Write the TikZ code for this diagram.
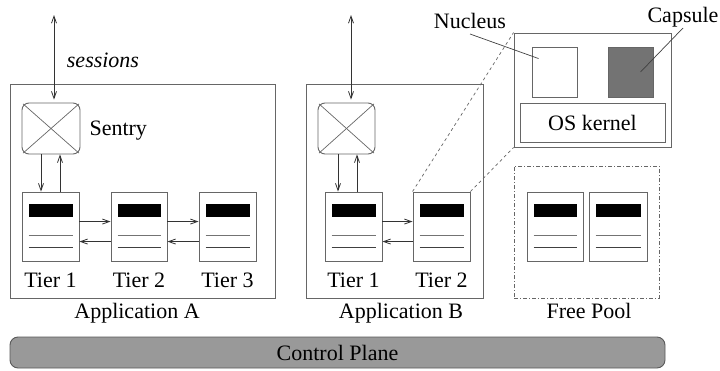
\documentclass[tikz,border=0pt]{standalone}
\usepackage{fontspec}
\setmainfont{Liberation Serif}
\usetikzlibrary{arrows,arrows.meta,calc}
\tikzset{box/.style={draw=black!60, line width=0.9pt, inner sep=0pt},
  tierbox/.style={box, minimum width=57pt, minimum height=69pt},
  sentbox/.style={box, rounded corners=7pt, minimum width=58pt, minimum height=51pt},
  link/.style={draw=black!80, line width=0.8pt, -{Straight Barb[length=7pt,width=5pt]}},
  leader/.style={draw=black!75, line width=0.7pt},
  zoomline/.style={draw=black!60, line width=0.7pt, dash pattern=on 3pt off 3pt}}
\newcommand{\tierlines}[1]{%
  \fill ($(#1.north west)+(7,12)$) rectangle ($(#1.north east)+(-6,25)$);
  \draw[black!55, line width=0.9pt] ($(#1.north west)+(7,44)$) -- ($(#1.north east)+(-6,44)$);
  \draw[black!75, line width=0.9pt] ($(#1.north west)+(7,56)$) -- ($(#1.north east)+(-6,56)$);}
\newcommand{\sentcross}[1]{%
  \draw[black!60, line width=0.7pt, shorten >=2pt, shorten <=2pt] (#1.north west) -- (#1.south east);
  \draw[black!60, line width=0.7pt, shorten >=2pt, shorten <=2pt] (#1.north east) -- (#1.south west);}
\begin{document}
\begin{tikzpicture}[x=1pt, y=-1pt, font=\fontsize{22}{26}\selectfont]
\useasboundingbox (0,0) rectangle (720,370);
% application A
\draw (142.5,191) node[box, minimum width=265pt, minimum height=214pt] (appA) {};
\draw (51,128.5) node[sentbox] (sentA) {}; \sentcross{sentA}
\draw (50.5,226.5) node[tierbox] (t1A) {}; \tierlines{t1A}
\draw (139,226.5) node[tierbox, minimum width=56pt] (t2A) {}; \tierlines{t2A}
\draw (227.5,226.5) node[tierbox] (t3A) {}; \tierlines{t3A}
\draw (86,135) node[anchor=base west] {Sentry};
\draw (103,67) node[anchor=base] {\itshape sessions};
\draw (50.5,287) node[anchor=base] {Tier 1};
\draw (139,287) node[anchor=base] {Tier 2};
\draw (227.5,287) node[anchor=base] {Tier 3};
\draw (137,318) node[anchor=base] {Application A};
\coordinate (topA) at (54,15);
\draw [link, {Straight Barb[length=7pt,width=5pt]}-{Straight Barb[length=7pt,width=5pt]}, shorten >=3pt] (topA) -- (topA |- sentA.north);
\draw [link] ([xshift=-10pt]sentA.south) -- ([xshift=-9.5pt]t1A.north);
\draw [link] ([xshift=9.5pt]t1A.north) -- ([xshift=9pt]sentA.south);
\draw [link] ([yshift=-30pt]t1A.north east) -- ([yshift=-30pt]t2A.north west);
\draw [link] ([yshift=-50pt]t2A.north west) -- ([yshift=-50pt]t1A.north east);
\draw [link] ([yshift=-30pt]t2A.north east) -- ([yshift=-30pt]t3A.north west);
\draw [link] ([yshift=-50pt]t3A.north west) -- ([yshift=-50pt]t2A.north east);
% application B
\draw (394.5,191) node[box, minimum width=177pt, minimum height=214pt] (appB) {};
\draw (346.5,128.5) node[sentbox, minimum width=57pt] (sentB) {}; \sentcross{sentB}
\draw (353.5,226.5) node[tierbox] (t1B) {}; \tierlines{t1B}
\draw (441.5,226.5) node[tierbox] (t2B) {}; \tierlines{t2B}
\draw (353.5,287) node[anchor=base] {Tier 1};
\draw (441.5,287) node[anchor=base] {Tier 2};
\draw (401,318) node[anchor=base] {Application B};
\coordinate (topB) at (351,15);
\draw [link, {Straight Barb[length=7pt,width=5pt]}-{Straight Barb[length=7pt,width=5pt]}, shorten >=3pt] (topB) -- (topB |- sentB.north);
\draw [link] ([xshift=-8.5pt]sentB.south) -- ([xshift=-15.5pt]t1B.north);
\draw [link] ([xshift=3.5pt]t1B.north) -- ([xshift=10.5pt]sentB.south);
\draw [link] ([yshift=-30pt]t1B.north east) -- ([yshift=-30pt]t2B.north west);
\draw [link] ([yshift=-50pt]t2B.north west) -- ([yshift=-50pt]t1B.north east);
% node zoom
\draw (592.5,90) node[box, minimum width=157pt, minimum height=114pt] (kern) {};
\draw (554.5,72) node[box, minimum width=45pt, minimum height=50pt] (nucbox) {};
\draw (630.5,72) node[box, fill=black!55, minimum width=45pt, minimum height=50pt] (capbox) {};
\draw (592.5,122.5) node[box, minimum width=145pt, minimum height=39pt] (osk) {OS kernel};
\draw (470,28) node[anchor=base] (nuclabel) {Nucleus};
\draw (683,22) node[anchor=base] (caplabel) {Capsule};
\draw [leader] ([yshift=-6pt]nuclabel.base) -- ($(nucbox.north west)+(7,12)$);
\draw [leader] ([yshift=-6pt]caplabel.base) -- ($(capbox.center)+(10,0)$);
\draw [zoomline] (t2B.north west) -- (kern.north west);
\draw [zoomline] (t2B.north east) -- (kern.south west);
% free pool
\draw (586.5,232) node[box, line width=0.8pt, dash pattern=on 4pt off 2pt on 1pt off 2pt, minimum width=145pt, minimum height=132pt] (pool) {};
\draw (555,226.5) node[tierbox, minimum width=56pt] (f1) {}; \tierlines{f1}
\draw (618,226.5) node[tierbox, minimum width=58pt] (f2) {}; \tierlines{f2}
\draw (589,318) node[anchor=base] {Free Pool};
% control plane
\draw (337.5,352.5) node[draw=black!65, line width=0.9pt, fill=black!40, rounded corners=8pt, minimum width=655pt, minimum height=31pt] (ctrl) {Control Plane};
\end{tikzpicture}
\end{document}
